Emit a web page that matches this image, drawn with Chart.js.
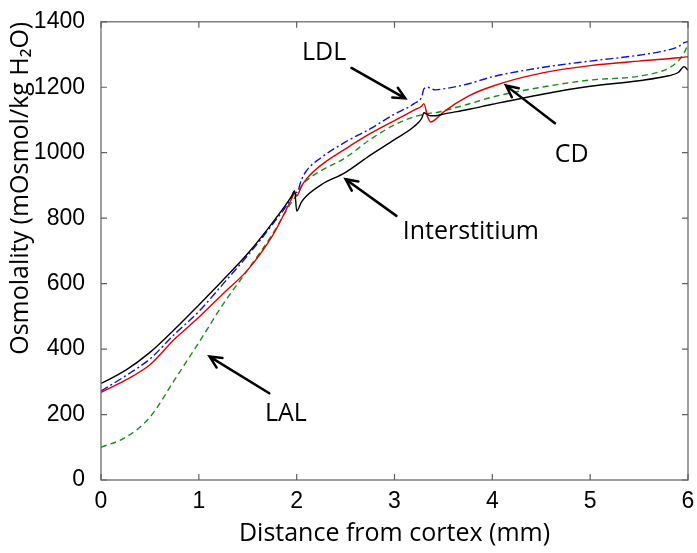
<!DOCTYPE html>
<html>
<head>
<meta charset="utf-8">
<script src="https://cdn.jsdelivr.net/npm/chart.js@4.4.1/dist/chart.umd.min.js"></script>
<style>
  html, body { margin: 0; padding: 0; background: #fff; }
  #wrap { width: 697px; height: 553px; }
</style>
</head>
<body>
<div id="wrap"><canvas id="osm-chart"></canvas></div>
<script>
// distance from cortex (mm)
const xs = [0, 0.25, 0.5, 0.75, 1.0, 1.25, 1.5, 1.75, 1.95, 1.98, 2.0, 2.05, 2.1, 2.25, 2.5, 2.75, 3.0, 3.2, 3.28, 3.3, 3.34, 3.37, 3.42, 3.5, 3.75, 4.0, 4.5, 5.0, 5.5, 5.8, 5.9, 5.96, 6.0];

// osmolality (mOsmol/kg H2O)
const interstitium = [295, 335, 390, 460, 535, 612, 692, 785, 868, 884, 822, 850, 868, 902, 940, 992, 1040, 1080, 1106, 1122, 1116, 1113, 1113, 1118, 1132, 1148, 1178, 1203, 1220, 1235, 1245, 1263, 1252];
const cd = [268, 305, 352, 430, 497, 570, 642, 745, 860, 878, 868, 898, 920, 962, 1012, 1058, 1098, 1130, 1143, 1150, 1108, 1094, 1102, 1124, 1172, 1203, 1243, 1266, 1280, 1287, 1290, 1292, 1293];
const lal = [100, 130, 192, 305, 420, 538, 642, 750, 850, 862, 870, 898, 915, 945, 985, 1040, 1085, 1110, 1116, 1118, 1120, 1121, 1122, 1128, 1148, 1170, 1200, 1222, 1234, 1258, 1280, 1305, 1330];
const ldl = [272, 318, 370, 445, 515, 600, 686, 780, 864, 884, 878, 918, 945, 985, 1033, 1073, 1118, 1150, 1172, 1195, 1200, 1196, 1192, 1195, 1210, 1232, 1260, 1280, 1298, 1314, 1324, 1336, 1340];

const xTicks = [0, 1, 2, 3, 4, 5, 6];
const yTicks = [0, 200, 400, 600, 800, 1000, 1200, 1400];

// annotations: label, text position, arrow tail, arrow head (data units)
const noteText = ['LDL', 'CD', 'Interstitium', 'LAL'];
const notePos = [[2.28, 1304], [4.81, 994], [3.78, 759], [1.89, 202]];
const arrowFrom = [[2.56, 1259], [4.64, 1090], [3.02, 807], [1.72, 265]];
const arrowTo = [[3.11, 1166], [4.14, 1205], [2.50, 919], [1.11, 377]];

function pts(ys) {
    return xs.map((x, i) => ({ x: x, y: ys[i] }));
}

const boxPlugin = {
    id: 'box',
    afterDatasetsDraw(chart) {
        const c = chart.ctx;
        const a = chart.chartArea;
        const sx = chart.scales.x, sy = chart.scales.y;
        c.save();
        c.strokeStyle = '#606060';
        c.lineWidth = 1.2;
        c.strokeRect(a.left, a.top, a.right - a.left, a.bottom - a.top);
        c.beginPath();
        xTicks.forEach(v => {
            const p = sx.getPixelForValue(v);
            c.moveTo(p, a.bottom); c.lineTo(p, a.bottom - 6);
            c.moveTo(p, a.top); c.lineTo(p, a.top + 6);
        });
        yTicks.forEach(v => {
            const p = sy.getPixelForValue(v);
            c.moveTo(a.left, p); c.lineTo(a.left + 6, p);
            c.moveTo(a.right, p); c.lineTo(a.right - 6, p);
        });
        c.stroke();

        // arrows and labels
        c.strokeStyle = '#000';
        c.fillStyle = '#000';
        c.lineWidth = 2.5;
        c.lineCap = 'round';
        c.font = '25px "Open Sans"';
        c.textAlign = 'center';
        c.textBaseline = 'middle';
        noteText.forEach((t, i) => {
            const x1 = sx.getPixelForValue(arrowFrom[i][0]), y1 = sy.getPixelForValue(arrowFrom[i][1]);
            const x2 = sx.getPixelForValue(arrowTo[i][0]), y2 = sy.getPixelForValue(arrowTo[i][1]);
            const ang = Math.atan2(y2 - y1, x2 - x1);
            const hl = 13;
            c.beginPath();
            c.moveTo(x1, y1); c.lineTo(x2, y2);
            c.moveTo(x2 - hl * Math.cos(ang - 0.45), y2 - hl * Math.sin(ang - 0.45));
            c.lineTo(x2, y2);
            c.lineTo(x2 - hl * Math.cos(ang + 0.45), y2 - hl * Math.sin(ang + 0.45));
            c.stroke();
            c.fillText(t, sx.getPixelForValue(notePos[i][0]), sy.getPixelForValue(notePos[i][1]));
        });
        c.restore();
    }
};

const ctx = document.getElementById('osm-chart').getContext('2d');
const osmChart = new Chart(ctx, {
    type: 'line',
    data: {
        datasets: [
            { label: 'Interstitium', data: pts(interstitium), borderColor: '#000000', borderWidth: 1.4 },
            { label: 'CD', data: pts(cd), borderColor: '#e00000', borderWidth: 1.4 },
            { label: 'LAL', data: pts(lal), borderColor: '#1a8a1a', borderWidth: 1.4, borderDash: [6, 4] },
            { label: 'LDL', data: pts(ldl), borderColor: '#1010d0', borderWidth: 1.4, borderDash: [8, 3, 2, 3] },
        ],
    },
    options: {
        responsive: true,
        maintainAspectRatio: false,
        animation: false,
        elements: {
            point: { radius: 0 },
            line: { cubicInterpolationMode: 'monotone', fill: false },
        },
        layout: { padding: { left: 0, top: 15, right: 9, bottom: 0 } },
        plugins: { legend: { display: false }, tooltip: { enabled: false } },
        scales: {
            x: {
                type: 'linear',
                min: 0,
                max: 6,
                afterBuildTicks: (s) => { s.ticks = xTicks.map(v => ({ value: v })); },
                afterFit: (s) => { s.height = 73; },
                grid: { display: false },
                border: { display: false },
                ticks: { color: '#000', padding: 0, callback: (v) => String(v), font: { family: '"Liberation Sans", Arial', size: 23 } },
                title: {
                    display: true,
                    text: 'Distance from cortex (mm)',
                    color: '#000',
                    padding: { top: 4 },
                    font: { family: '"Open Sans"', size: 25 },
                },
            },
            y: {
                min: 0,
                max: 1400,
                afterBuildTicks: (s) => { s.ticks = yTicks.map(v => ({ value: v })); },
                afterFit: (s) => { s.width = 101; },
                grid: { display: false },
                border: { display: false },
                ticks: { color: '#000', padding: 8, callback: (v) => String(v), font: { family: '"Liberation Sans", Arial', size: 23 } },
                title: {
                    display: true,
                    text: 'Osmolality (mOsmol/kg H₂O)',
                    align: 'end',
                    color: '#000',
                    padding: { top: 6, bottom: 0 },
                    font: { family: '"Open Sans"', size: 25 },
                },
            },
        },
    },
    plugins: [boxPlugin],
});
</script>
</body>
</html>
